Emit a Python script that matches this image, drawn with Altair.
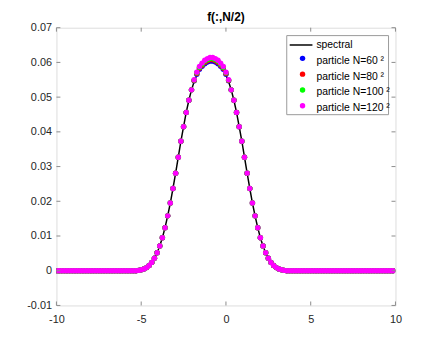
import altair as alt
import numpy as np
import pandas as pd

# ---- data ----
N_GRID = 128
x_grid = -10 + np.arange(N_GRID) * 20.0 / N_GRID

# spectral solution values on grid indices 30..87 (zero elsewhere)
spectral_core = [
    0.0, 0.0001, 0.0003, 0.0005, 0.0009, 0.0015, 0.0024, 0.0036, 0.0052, 0.0071,
    0.0095, 0.0124, 0.0158, 0.0195, 0.0237, 0.0281, 0.0327, 0.0373, 0.0415, 0.0456,
    0.0491, 0.0521, 0.0545, 0.0563, 0.0576, 0.0585, 0.0592, 0.0597, 0.0600, 0.0600,
    0.0597, 0.0592, 0.0585, 0.0576, 0.0563, 0.0545, 0.0521, 0.0491, 0.0456, 0.0415,
    0.0373, 0.0327, 0.0281, 0.0237, 0.0195, 0.0158, 0.0124, 0.0095, 0.0071, 0.0052,
    0.0036, 0.0024, 0.0015, 0.0009, 0.0005, 0.0003, 0.0001, 0.0,
]
CORE_START = 30
spectral = [0.0] * CORE_START + spectral_core + [0.0] * (N_GRID - CORE_START - len(spectral_core))

# particle values near the peak (grid indices 52..65); elsewhere they match the spectral curve
PEAK_START = 52
peak_n60 = [0.0547, 0.0566, 0.0580, 0.0589, 0.0596, 0.0601, 0.0604,
            0.0604, 0.0601, 0.0596, 0.0589, 0.0580, 0.0566, 0.0547]
peak_n80 = [0.0548, 0.0568, 0.0583, 0.0592, 0.0600, 0.0605, 0.0608,
            0.0608, 0.0605, 0.0600, 0.0592, 0.0583, 0.0568, 0.0548]
peak_n100 = [0.0549, 0.0570, 0.0585, 0.0595, 0.0603, 0.0608, 0.0611,
             0.0611, 0.0608, 0.0603, 0.0595, 0.0585, 0.0570, 0.0549]
peak_n120 = [0.0550, 0.0572, 0.0588, 0.0598, 0.0606, 0.0611, 0.0614,
             0.0614, 0.0611, 0.0606, 0.0598, 0.0588, 0.0572, 0.0550]

series_labels = ["spectral", "particle N=60 \u00b2", "particle N=80 \u00b2",
                 "particle N=100 \u00b2", "particle N=120 \u00b2"]
series_colors = ["#000000", "#0000ff", "#ff0000", "#00ff00", "#ff00ff"]
particle_peaks = [peak_n60, peak_n80, peak_n100, peak_n120]

x_ticks = [-10, -5, 0, 5, 10]
y_ticks = [-0.01, 0, 0.01, 0.02, 0.03, 0.04, 0.05, 0.06, 0.07]

# ---- layout ----
W, H = 343, 281
FRAME = "#8c8c8c"
FONT = "Liberation Sans"

xs = alt.Scale(domain=[-10, 10], nice=False, zero=False)
ys = alt.Scale(domain=[-0.01, 0.07], nice=False, zero=False)

x_axis = alt.Axis(values=x_ticks, title=None, grid=False, ticks=False, domain=False,
                  labelFontSize=11, labelFont=FONT, labelColor="#262626",
                  labelPadding=8, labelFlush=False, labelExpr="'' + datum.value")
y_axis = alt.Axis(values=y_ticks, title=None, grid=False, ticks=False, domain=False,
                  labelFontSize=11, labelFont=FONT, labelColor="#262626",
                  labelPadding=5, labelExpr="'' + datum.value")


def X(field):
    return alt.X(field, scale=xs, axis=x_axis, title=None)


def Y(field):
    return alt.Y(field, scale=ys, axis=y_axis, title=None)


df_spec = pd.DataFrame({"x": x_grid, "y": spectral})

layers = []
layers.append(
    alt.Chart(df_spec).mark_line(color="black", strokeWidth=1.5, clip=True).encode(
        x=X("x:Q"), y=Y("y:Q"))
)

for label, color, peak in zip(series_labels[1:], series_colors[1:], particle_peaks):
    vals = list(spectral)
    vals[PEAK_START:PEAK_START + len(peak)] = peak
    dfp = pd.DataFrame({"x": x_grid, "y": vals})
    layers.append(
        alt.Chart(dfp).mark_circle(size=30, opacity=1, color=color, clip=True).encode(
            x=X("x:Q"), y=Y("y:Q"))
    )

# inward tick marks on all four sides
TL = 4
dfx = pd.DataFrame({"x": x_ticks})
dfy = pd.DataFrame({"y": y_ticks})
layers.append(alt.Chart(dfx).mark_rule(color=FRAME, strokeWidth=1).encode(
    x=X("x:Q"), y=alt.value(H), y2=alt.value(H - TL)))
layers.append(alt.Chart(dfx).mark_rule(color=FRAME, strokeWidth=1).encode(
    x=X("x:Q"), y=alt.value(0), y2=alt.value(TL)))
layers.append(alt.Chart(dfy).mark_rule(color=FRAME, strokeWidth=1).encode(
    y=Y("y:Q"), x=alt.value(0), x2=alt.value(TL)))
layers.append(alt.Chart(dfy).mark_rule(color=FRAME, strokeWidth=1).encode(
    y=Y("y:Q"), x=alt.value(W), x2=alt.value(W - TL)))

# legend box
one = pd.DataFrame({"a": [0]})
LX0, LX1, LY0, LY1 = 233, 336, 8, 88
layers.append(alt.Chart(one).mark_rect(fill="white", stroke="#9a9a9a", strokeWidth=1).encode(
    x=alt.value(LX0), x2=alt.value(LX1), y=alt.value(LY0), y2=alt.value(LY1)))
ROW0, ROWSTEP = 17.5, 16
for i, (label, color) in enumerate(zip(series_labels, series_colors)):
    ry = ROW0 + ROWSTEP * i
    if i == 0:
        layers.append(alt.Chart(one).mark_rule(color=color, strokeWidth=1.5).encode(
            x=alt.value(236), x2=alt.value(259), y=alt.value(ry)))
    else:
        layers.append(alt.Chart(one).mark_circle(size=30, opacity=1, color=color).encode(
            x=alt.value(249), y=alt.value(ry - 2.5)))
    layers.append(alt.Chart(one).mark_text(text=label, align="left", baseline="middle",
                                           fontSize=10.5, font=FONT, color="black").encode(
        x=alt.value(263), y=alt.value(ry)))

chart = alt.layer(*layers).properties(
    width=W, height=H,
    title=alt.Title("f(:,N/2)", fontSize=12, fontWeight="bold", font=FONT,
                    color="black", anchor="middle", offset=-2),
    autosize=alt.AutoSizeParams(type="none"),
    padding={"left": 49, "top": 18, "right": 40, "bottom": 30},
).configure_view(stroke=FRAME, strokeWidth=1).configure(background="white")

chart.save("out.html", embed_options={"renderer": "svg", "actions": False})
